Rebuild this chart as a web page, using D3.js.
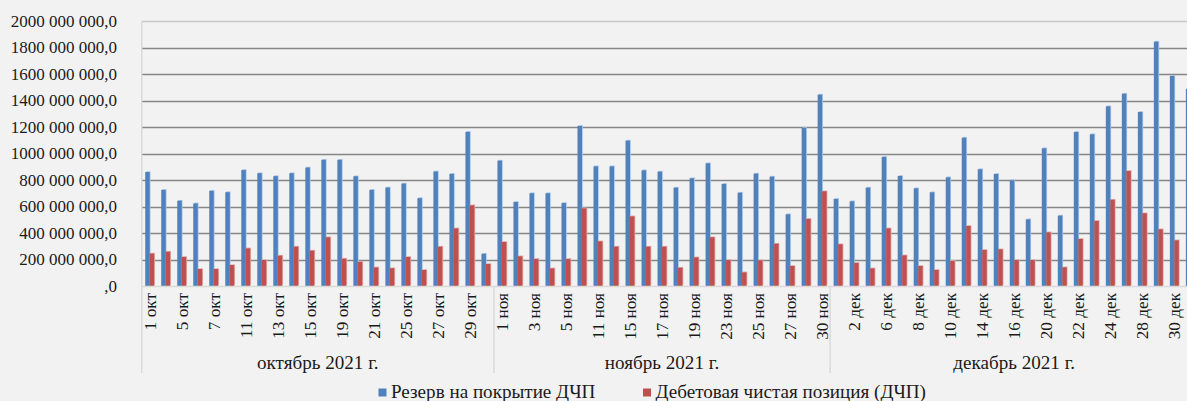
<!DOCTYPE html>
<html>
<head>
<meta charset="utf-8">
<script src="https://cdn.jsdelivr.net/npm/d3@7"></script>
<style>
  body { margin: 0; background: #f2f2f2; }
</style>
</head>
<body>
<div id="chart"></div>
<script>
// category labels, grouped by month
var months = ["октябрь 2021 г.", "ноябрь 2021 г.", "декабрь 2021 г."];
var octDays = ["1 окт","4 окт","5 окт","6 окт","7 окт","8 окт","11 окт","12 окт","13 окт","14 окт","15 окт",
  "18 окт","19 окт","20 окт","21 окт","22 окт","25 окт","26 окт","27 окт","28 окт","29 окт","30 окт"];
var novDays = ["1 ноя","2 ноя","3 ноя","4 ноя","5 ноя","8 ноя","11 ноя","12 ноя","15 ноя","16 ноя","17 ноя",
  "18 ноя","19 ноя","22 ноя","23 ноя","24 ноя","25 ноя","26 ноя","27 ноя","29 ноя","30 ноя"];
var decDays = ["1 дек","2 дек","3 дек","6 дек","7 дек","8 дек","9 дек","10 дек","13 дек","14 дек","15 дек",
  "16 дек","17 дек","20 дек","21 дек","22 дек","23 дек","24 дек","27 дек","28 дек","29 дек","30 дек","31 дек"];

var seriesNames = ["Резерв на покрытие ДЧП", "Дебетовая чистая позиция (ДЧП)"];

// values in millions
var reserveOct = [860,725,643,623,718,708,875,851,829,851,894,952,952,828,725,743,773,663,864,846,1163,243];
var reserveNov = [946,634,700,700,626,1208,903,903,1097,873,863,742,813,926,770,704,848,825,541,1195,1444];
var reserveDec = [657,639,742,974,830,737,707,820,1119,881,845,798,503,1039,531,1162,1145,1356,1451,1313,1844,1585,1487];

var debitOct = [245,259,219,128,128,158,284,196,229,297,267,368,206,182,140,134,219,121,297,435,609,166];
var debitNov = [332,224,204,133,204,586,337,297,526,297,297,138,216,368,196,103,194,319,151,506,715];
var debitDec = [315,174,133,435,231,151,121,189,453,272,277,196,196,405,141,355,491,651,868,549,428,345,380];

var yTicks = [0,200,400,600,800,1000,1200,1400,1600,1800,2000];

var groups = [octDays, novDays, decDays];
var reserve = reserveOct.concat(reserveNov, reserveDec);
var debit = debitOct.concat(debitNov, debitDec);

var data = [];
groups.forEach(function(days, m) {
  days.forEach(function(d) {
    data.push({ label: d, month: m });
  });
});
data.forEach(function(d, i) {
  d.i = i;
  d.values = [reserve[i] * 1e6, debit[i] * 1e6];
});

var w = 1187, h = 401;
var plotLeft = 141.7, plotTop = 21, plotBottom = 286;
var step = 16.01;
var serif = "'Liberation Serif', 'Times New Roman', serif";

var svg = d3.select("#chart").append("svg")
  .attr("width", w)
  .attr("height", h)
  .style("font-family", serif);

svg.append("rect").attr("width", w).attr("height", h).attr("fill", "#f2f2f2");

var x0 = d3.scaleBand()
  .domain(data.map(function(d) { return d.i; }))
  .range([plotLeft, plotLeft + step * data.length])
  .paddingInner(0.44)
  .paddingOuter(0.22);

var x1 = d3.scaleBand()
  .domain([0, 1])
  .range([0, x0.bandwidth()]);

var y = d3.scaleLinear()
  .domain([0, 2000e6])
  .range([plotBottom, plotTop]);

function fmt(v) {
  if (v == 0) return ",0";
  var s = String(Math.round(v));
  return s.slice(0, -6) + " " + s.slice(-6, -3) + " " + s.slice(-3) + ",0";
}

// gridlines
svg.append("g")
  .selectAll("line")
  .data(yTicks.slice(1))
  .enter()
  .append("line")
  .attr("x1", plotLeft)
  .attr("x2", w)
  .attr("y1", function(d) { return Math.round(y(d * 1e6)) + 0.5; })
  .attr("y2", function(d) { return Math.round(y(d * 1e6)) + 0.5; })
  .attr("stroke", function(d) { return d == 2000 ? "#c8c8c8" : "#868686"; })
  .attr("stroke-width", 1.4);

// y labels
svg.append("g")
  .selectAll("text")
  .data(yTicks)
  .enter()
  .append("text")
  .attr("x", 117)
  .attr("y", function(d) { return y(d * 1e6); })
  .attr("dy", "0.35em")
  .attr("text-anchor", "end")
  .attr("font-family", serif)
  .attr("font-size", 17)
  .attr("fill", "#1a1a1a")
  .text(function(d) { return fmt(d * 1e6); });

// bars
var colors = ["#4f81bd", "#c0504d"];
var glow = ["#a9c2e0", "#e3aeac"];
var bw = x1.bandwidth();

var cat = svg.append("g")
  .selectAll("g")
  .data(data)
  .enter()
  .append("g")
  .attr("transform", function(d) { return "translate(" + x0(d.i) + ",0)"; });

[0, 1].forEach(function(k) {
  cat.append("rect")
    .attr("x", x1(k) + 0.8)
    .attr("y", function(d) { return y(d.values[k]) - 0.8; })
    .attr("width", bw)
    .attr("height", function(d) { return plotBottom - y(d.values[k]); })
    .attr("fill", glow[k]);
  cat.append("rect")
    .attr("x", x1(k))
    .attr("y", function(d) { return y(d.values[k]); })
    .attr("width", bw)
    .attr("height", function(d) { return plotBottom - y(d.values[k]); })
    .attr("fill", colors[k]);
});

// axis line
svg.append("line")
  .attr("x1", plotLeft).attr("x2", w)
  .attr("y1", plotBottom + 0.5).attr("y2", plotBottom + 0.5)
  .attr("stroke", "#d9d9d9").attr("stroke-width", 1.4);

// group separators (left edge + month boundaries)
var bounds = [0];
var n = 0;
groups.forEach(function(g) { n += g.length; bounds.push(n); });
svg.append("g")
  .selectAll("line")
  .data(bounds.slice(0, 3))
  .enter()
  .append("line")
  .attr("x1", function(d) { return plotLeft + d * step; })
  .attr("x2", function(d) { return plotLeft + d * step; })
  .attr("y1", function(d) { return d == 0 ? plotTop : plotBottom; })
  .attr("y2", 373)
  .attr("stroke", "#d9d9d9")
  .attr("stroke-width", 1.4);

// category labels, every second one
svg.append("g")
  .selectAll("text")
  .data(data.filter(function(d) { return d.i % 2 == 0; }))
  .enter()
  .append("text")
  .attr("transform", function(d) {
    return "translate(" + (x0(d.i) + x0.bandwidth() / 2) + ",293) rotate(-90)";
  })
  .attr("dy", "0.35em")
  .attr("text-anchor", "end")
  .attr("font-family", serif)
  .attr("font-size", 17.2)
  .attr("fill", "#1a1a1a")
  .text(function(d) { return d.label; });

// month labels
svg.append("g")
  .selectAll("text")
  .data(months)
  .enter()
  .append("text")
  .attr("x", function(d, m) { return plotLeft + (bounds[m] + bounds[m + 1]) / 2 * step; })
  .attr("y", 362)
  .attr("dy", "0.35em")
  .attr("text-anchor", "middle")
  .attr("font-family", serif)
  .attr("font-size", 19.1)
  .attr("fill", "#1a1a1a")
  .text(function(d) { return d; });

// legend
var legendX = [378.5, 643];
var lg = svg.append("g")
  .selectAll("g")
  .data(seriesNames)
  .enter()
  .append("g")
  .attr("transform", function(d, k) { return "translate(" + legendX[k] + ",391)"; });
lg.append("rect")
  .attr("x", 0).attr("y", -2.5)
  .attr("width", 8).attr("height", 8)
  .attr("fill", function(d, k) { return colors[k]; });
lg.append("text")
  .attr("x", 12.5)
  .attr("dy", "0.35em")
  .attr("font-family", serif)
  .attr("font-size", 19.1)
  .attr("fill", "#1a1a1a")
  .text(function(d) { return d; });
</script>
</body>
</html>
